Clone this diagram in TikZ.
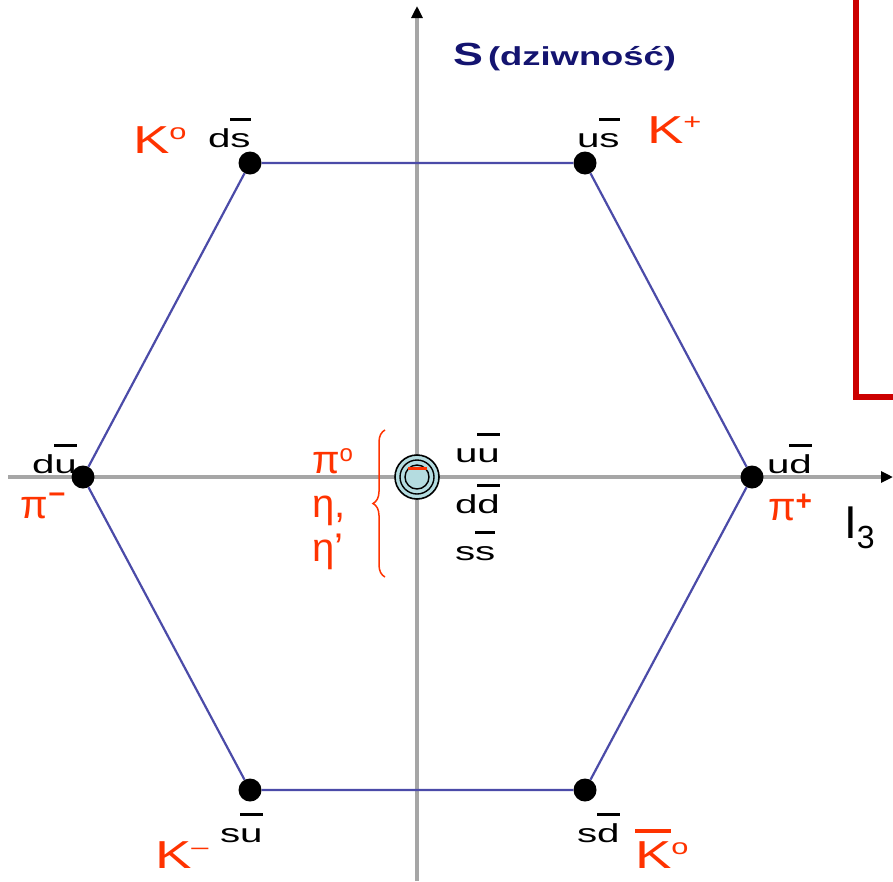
\documentclass[tikz,border=0pt]{standalone}
\usepackage{fontspec}
\setmainfont{Liberation Sans}[FakeStretch=1.55]
\newfontfamily\gk{Liberation Sans}
\newfontfamily\ttl{Liberation Sans}[FakeStretch=1.4]
\newfontfamily\kf{Liberation Sans}[FakeStretch=1.4]
\usetikzlibrary{arrows.meta,decorations.pathreplacing}
\definecolor{rd}{HTML}{FF3300}
\definecolor{navy}{HTML}{141470}
\definecolor{hexc}{HTML}{4B4BA8}
\definecolor{axc}{HTML}{A6A6A6}
\definecolor{boxred}{HTML}{CC0000}
\definecolor{cfill}{HTML}{B4DCE0}
\newcommand\qb[2][1.0em]{\setbox0\hbox{#2}\rlap{\raisebox{#1}{\rule{\wd0}{0.11em}}}\box0}
\newcommand\hi[3][0.34em]{\raisebox{#1}{\fontsize{#2}{#2}\selectfont #3}}
\begin{document}
\begin{tikzpicture}[x=1pt,y=-1pt,
  lab/.style={inner sep=0pt, outer sep=0pt, anchor=base west},
  blk/.style={lab, font=\fontsize{26}{26}\selectfont},
  redk/.style={lab, text=rd, font=\kf\fontsize{39}{39}\selectfont},
  grk/.style={lab, text=rd, font=\gk\fontsize{40}{40}\selectfont},
  dot/.style={circle, fill=black, inner sep=0pt, minimum size=23pt},
  axis/.style={draw=axc, line width=4pt, -{Triangle[black,length=12pt,width=11pt]}},
  hex/.style={draw=hexc, line width=2.2pt}]
\useasboundingbox (0,0) rectangle (893,881);
\fill[white] (0,0) rectangle (893,881);
% axes
\coordinate (xl) at (8,477);
\coordinate (xr) at (893,477);
\coordinate (yb) at (417,881);
\coordinate (yt) at (417,6);
\draw[axis] (yb) -- (yt);
\draw[axis] (xl) -- (xr);
% red frame
\coordinate (rb1) at (856,0);
\coordinate (rb2) at (856,397);
\coordinate (rb3) at (893,397);
\draw[boxred, line width=6pt, line join=miter] (rb1) -- (rb2) -- (rb3);
% hexagon vertices
\node[dot] (tl) at (250,163) {};
\node[dot] (tr) at (585,163) {};
\node[dot] (r)  at (752,477) {};
\node[dot] (br) at (585,790) {};
\node[dot] (bl) at (250,790) {};
\node[dot] (l)  at (83,477) {};
\draw[hex] (tl) -- (tr) -- (r) -- (br) -- (bl) -- (l) -- (tl);
% centre
\node[circle, draw=black, fill=cfill, line width=1.6pt, minimum size=44pt, inner sep=0pt] (c) at (417,477) {};
\draw[black, line width=1.4pt] (c.center) circle (17) (c.center) circle (12);
\draw[rd, line width=3pt] ([shift={(-9,-9)}]c.center) -- ([shift={(10,-9)}]c.center);
% title
\node[lab, font=\ttl\bfseries\fontsize{32}{32}\selectfont, text=navy] (st) at (453,65) {S};
\node[lab, font=\ttl\bfseries\fontsize{26}{26}\selectfont, text=navy] (sd) at (488,65) {(dziwność)};
% quark labels
\node[blk] (q1) at (208,147) {d\qb{s}};
\node[blk] (q2) at (577,147) {u\qb{s}};
\node[blk] (q3) at (32,473) {d\qb{u}};
\node[blk] (q4) at (767,473) {u\qb{d}};
\node[blk] (q5) at (455,462) {u\qb{u}};
\node[blk] (q6) at (455,513) {d\qb{d}};
\node[blk] (q7) at (455,560) {s\qb{s}};
\node[blk] (q8) at (220,842) {s\qb{u}};
\node[blk] (q9) at (577,842) {s\qb{d}};
% meson labels
\node[redk] (m1) at (133,153) {K\hi{22}{o}};
\node[redk] (m2) at (647,143) {K\hi{22}{+}};
\node[redk] (m3) at (155,868) {K\hi{22}{–}};
\node[redk] (m4) at (635,868) {\qb[0.9em]{K}\hi{22}{o}};
\node[grk] (m5) at (20,518) {π\kern1pt\hi[0.4em]{30}{\bfseries –}};
\node[grk] (m6) at (768,520) {π\hi[0.25em]{28}{\bfseries +}};
\node[grk] (m7) at (312,473) {π\hi[0.28em]{24}{o}};
\node[grk] (m8) at (312,517) {η,};
\node[grk] (m9) at (312,561) {η’};
\coordinate (bb) at (385,577);
\coordinate (bt) at (385,430);
\draw[rd, line width=1.5pt, decorate, decoration={brace, amplitude=12pt}] (bb) -- (bt);
% axis label
\node[lab, font=\gk\fontsize{46}{46}\selectfont] (i3) at (844,538) {I\raisebox{-0.22em}{\fontsize{32}{32}\selectfont 3}};
\end{tikzpicture}
\end{document}
